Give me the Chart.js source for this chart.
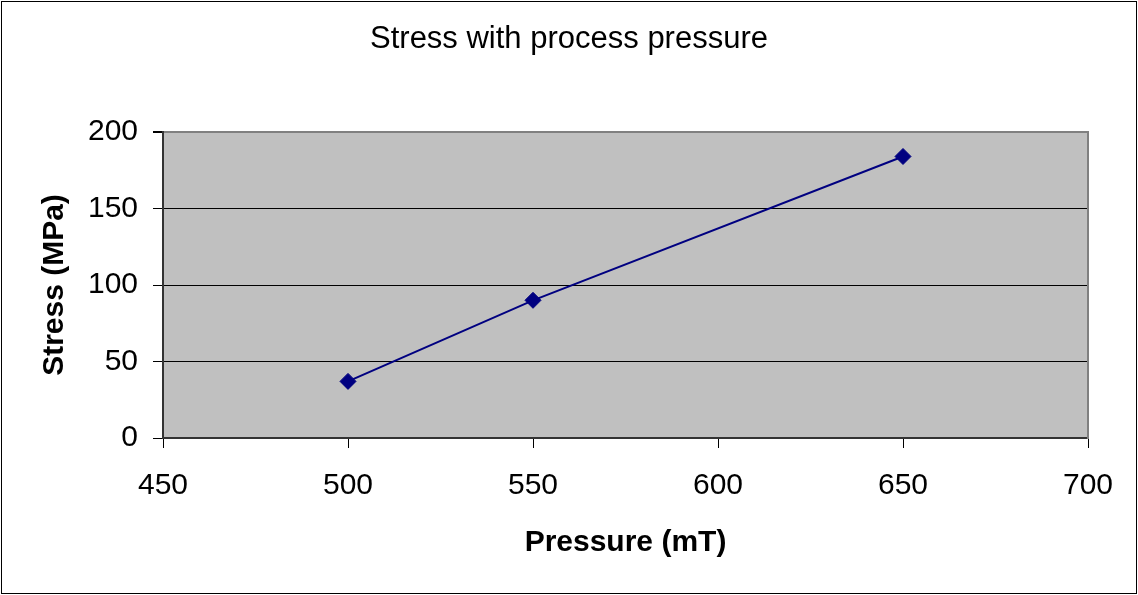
<!DOCTYPE html>
<html>
<head>
<meta charset="utf-8">
<script src="https://cdn.jsdelivr.net/npm/chart.js@4/dist/chart.umd.min.js"></script>
<style>
  html, body { margin: 0; padding: 0; background: #ffffff; }
  #wrap { width: 1138px; height: 595px; }
</style>
</head>
<body>
<div id="wrap"><canvas id="c" width="1138" height="595"></canvas></div>
<script>
// Process pressure (mT) and resulting film stress (MPa)
const pressures = [500, 550, 650];
const stresses = [37, 90, 184];

// Axis ranges and tick spacing
const xTicks = [450, 500, 550, 600, 650, 700];
const yTicks = [0, 50, 100, 150, 200];

const FONT = "'Liberation Sans', Arial, Helvetica, sans-serif";

// Grey plot background plus outer frame around the whole figure
const frame = {
  id: 'frame',
  beforeDraw(chart) {
    const { ctx, chartArea: a } = chart;
    ctx.save();
    ctx.fillStyle = '#ffffff';
    ctx.fillRect(0, 0, chart.width, chart.height);
    ctx.fillStyle = '#c0c0c0';
    ctx.fillRect(a.left, a.top, a.right - a.left, a.bottom - a.top);
    ctx.restore();
  },
  afterDraw(chart) {
    const { ctx } = chart;
    ctx.save();
    ctx.strokeStyle = '#000000';
    ctx.lineWidth = 1;
    ctx.strokeRect(1.5, 1.5, chart.width - 3, chart.height - 3);
    ctx.restore();
  }
};

new Chart(document.getElementById('c'), {
  type: 'line',
  data: {
    datasets: [{
      label: 'Stress',
      data: pressures.map((p, i) => ({ x: p, y: stresses[i] })),
      borderColor: '#000080',
      backgroundColor: '#000080',
      borderWidth: 2,
      tension: 0,
      pointStyle: 'rectRot',
      pointRadius: 8,
      pointBorderWidth: 1,
      pointBackgroundColor: '#000080',
      pointBorderColor: '#000080'
    }]
  },
  options: {
    responsive: false,
    animation: false,
    layout: { padding: { left: 0, right: 0, top: 0, bottom: 0 } },
    plugins: {
      legend: { display: false },
      tooltip: { enabled: false },
      title: {
        display: true,
        text: 'Stress with process pressure',
        color: '#000000',
        font: { family: FONT, size: 31, weight: 'normal' },
        padding: { top: 21, bottom: 73.8 }
      }
    },
    scales: {
      x: {
        type: 'linear',
        position: 'bottom',
        min: xTicks[0],
        max: xTicks[xTicks.length - 1],
        afterBuildTicks(s) { s.ticks = xTicks.map(v => ({ value: v })); },
        afterFit(s) { s.height = 157; },
        grid: {
          drawOnChartArea: false,
          drawTicks: true,
          tickLength: 10,
          tickColor: '#000000',
          tickWidth: 1
        },
        border: { display: true, color: '#333333', width: 2 },
        ticks: {
          color: '#000000',
          font: { family: FONT, size: 30 },
          padding: 20,
          maxRotation: 0,
          autoSkip: false
        },
        title: {
          display: true,
          text: 'Pressure (mT)',
          color: '#000000',
          font: { family: FONT, size: 30, weight: 'bold' },
          padding: { top: 0, bottom: 34 }
        }
      },
      y: {
        type: 'linear',
        position: 'left',
        min: yTicks[0],
        max: yTicks[yTicks.length - 1],
        afterBuildTicks(s) { s.ticks = yTicks.map(v => ({ value: v })); },
        afterFit(s) { s.width = 163; },
        grid: {
          drawOnChartArea: true,
          drawTicks: true,
          tickLength: 10,
          tickColor: '#000000',
          color: ctx => (ctx.tick && ctx.tick.value === 200) ? '#808080' : (ctx.tick && ctx.tick.value === 0 ? 'rgba(0,0,0,0)' : '#000000'),
          lineWidth: ctx => (ctx.tick && ctx.tick.value === 200) ? 2 : 1
        },
        border: { display: true, color: '#333333', width: 2 },
        ticks: {
          color: '#000000',
          font: { family: FONT, size: 30 },
          padding: 15,
          autoSkip: false
        },
        title: {
          display: true,
          text: 'Stress (MPa)',
          color: '#000000',
          font: { family: FONT, size: 30, weight: 'bold' },
          padding: { top: 37, bottom: 0 }
        }
      },
      yRight: {
        type: 'linear',
        position: 'right',
        min: yTicks[0],
        max: yTicks[yTicks.length - 1],
        afterFit(s) { s.width = 50; },
        grid: { display: false, drawTicks: false },
        ticks: { display: false },
        border: { display: true, color: '#808080', width: 2 }
      }
    }
  },
  plugins: [frame]
});
</script>
</body>
</html>
